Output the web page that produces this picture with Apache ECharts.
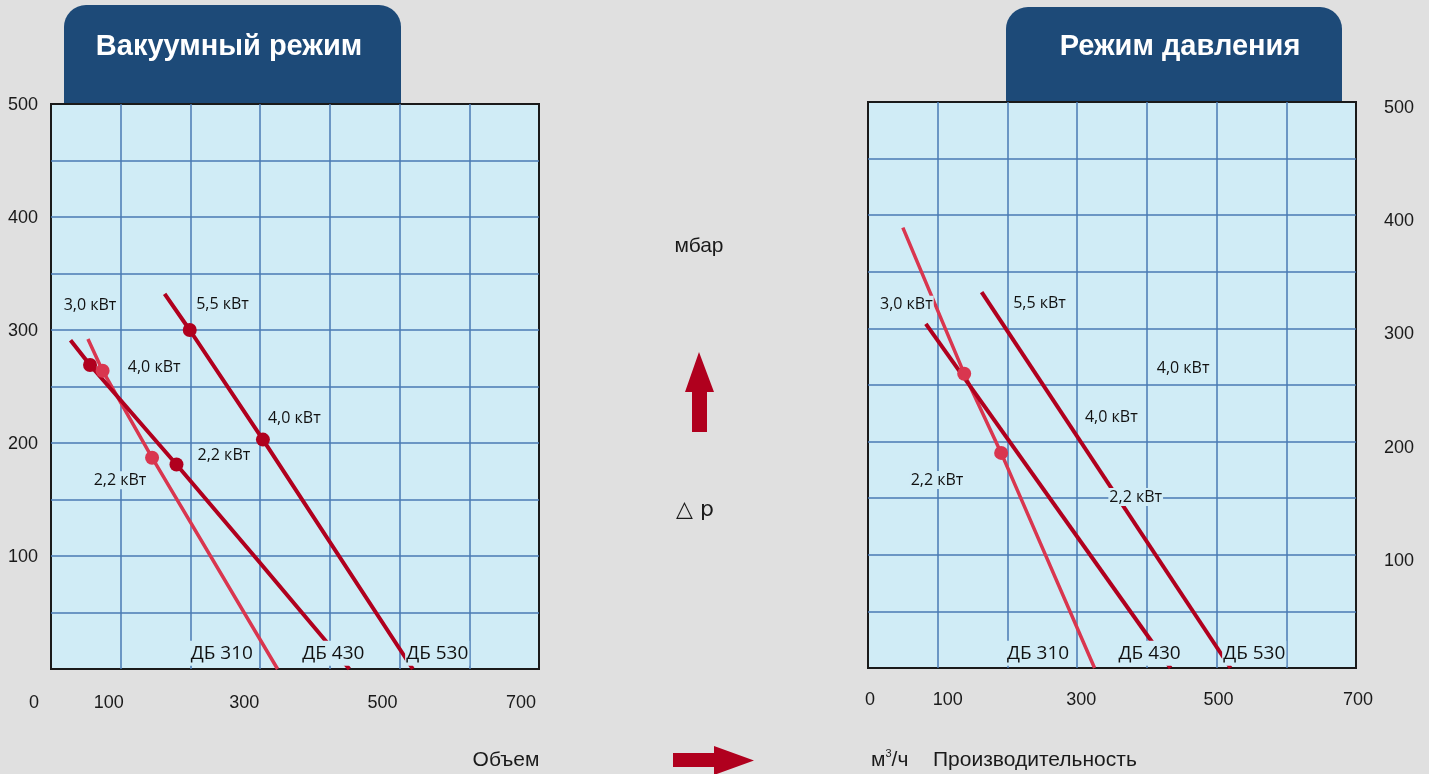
<!DOCTYPE html>
<html>
<head>
<meta charset="utf-8">
<script src="https://cdn.jsdelivr.net/npm/echarts@6/dist/echarts.min.js"></script>
<style>
html,body{margin:0;padding:0;background:#e0e0e0;}
#chart{width:1429px;height:774px;}
</style>
</head>
<body>
<div id="chart"></div>
<script>
// ---- data ----
const xTicks = [0, 100, 300, 500, 700];
const yTicks = [100, 200, 300, 400, 500];

const titles = ['Вакуумный режим', 'Режим давления'];

// Vacuum mode (left)
const vacDB310 = [[53, 292], [74, 264], [145, 187], [325, 0]];
const vacDB430 = [[28, 291], [56, 269], [180, 181], [297, 96], [428, 0]];
const vacDB530 = [[163, 332], [199, 300], [304, 203], [519, 0]];
const vacDotsLight = [[74, 264], [145, 187]];
const vacDotsDark = [[56, 269], [180, 181], [199, 300], [304, 203]];
const vacKwLabels = [[56, 322, '3,0 кВт'], [246, 323, '5,5 кВт'], [148, 267, '4,0 кВт'], [349, 222, '4,0 кВт'], [248, 189, '2,2 кВт'], [99, 167, '2,2 кВт']];
const vacModelLabels = [[245, 14, 'ДБ 310'], [405, 14, 'ДБ 430'], [554, 14, 'ДБ 530']];

// Pressure mode (right)
const prsDB310 = [[50, 389], [138, 260], [191, 190], [325, 0]];
const prsDB430 = [[83, 304], [434, 0]];
const prsDB530 = [[163, 332], [520, 0]];
const prsDotsLight = [[138, 260], [191, 190]];
const prsDotsDark = [];
const prsKwLabels = [[55, 321, '3,0 кВт'], [246, 322, '5,5 кВт'], [452, 265, '4,0 кВт'], [349, 221, '4,0 кВт'], [384, 151, '2,2 кВт'], [99, 166, '2,2 кВт']];
const prsModelLabels = [[244, 13, 'ДБ 310'], [404, 13, 'ДБ 430'], [554, 13, 'ДБ 530']];

const axisTexts = { yUnit: 'мбар', dp: '△ p', vol: 'Объем', unit: 'м{s|3}/ч', perf: 'Производительность' };

// ---- styles ----
const DARK = '#b0001e';
const LIGHT = '#d9364f';
const PLOT_BG = '#d0ecf6';
const GRID_LINE = '#4a7ab3';
const TAB = '#1d4a78';
const TICK_FONT = 'Liberation Sans, Arial, sans-serif';
const LABEL_FONT = 'Open Sans, sans-serif';

const xShift = [
  { 0: -17, 100: -12, 300: -16, 500: -17, 700: -18 },
  { 0: 2, 100: 10, 300: 4, 500: 2, 700: 2 }
];
function xRich(side) {
  const r = {};
  xTicks.forEach(v => {
    const dx = xShift[side][v];
    r['s' + v] = {
      fontSize: 18, fontFamily: TICK_FONT, color: '#1a1a1a',
      padding: dx < 0 ? [0, -2 * dx, 0, 0] : [0, 0, 0, 2 * dx]
    };
  });
  return r;
}

function xAxis(gi) {
  return {
    gridIndex: gi, type: 'value', min: 0, max: 700, interval: 100,
    axisLine: { show: false }, axisTick: { show: false },
    splitLine: { show: true, showMinLine: false, showMaxLine: false, lineStyle: { color: GRID_LINE, width: 1.5 } },
    axisLabel: {
      margin: gi === 0 ? 25 : 23,
      formatter: v => xTicks.includes(v) ? '{s' + v + '|' + v + '}' : '',
      rich: xRich(gi)
    }
  };
}
function yAxis(gi) {
  return {
    gridIndex: gi, type: 'value', min: 0, max: 500, interval: 50,
    position: gi === 0 ? 'left' : 'right',
    axisLine: { show: false }, axisTick: { show: false },
    splitLine: { show: true, showMinLine: false, showMaxLine: false, lineStyle: { color: GRID_LINE, width: 1.5 } },
    axisLabel: {
      margin: gi === 0 ? 13 : 28,
      formatter: v => yTicks.includes(v) ? '{t|' + v + '}' : '',
      rich: {
        t: {
          fontSize: 18, fontFamily: TICK_FONT, color: '#1a1a1a',
          padding: gi === 0 ? [2, 0, 0, 0] : [12, 0, 0, 0]
        }
      }
    }
  };
}

function lineSeries(gi, data, color, width) {
  return {
    type: 'line', xAxisIndex: gi, yAxisIndex: gi, data: data,
    symbol: 'none', z: 3, silent: true,
    lineStyle: { color: color, width: width }
  };
}
function dotSeries(gi, data, color) {
  return {
    type: 'scatter', xAxisIndex: gi, yAxisIndex: gi, data: data,
    symbolSize: 14, z: 4, silent: true,
    itemStyle: { color: color, opacity: 1 }
  };
}
function labelSeries(gi, data, size, pad) {
  return {
    type: 'scatter', xAxisIndex: gi, yAxisIndex: gi, data: data,
    symbolSize: 1, z: 6, silent: true,
    itemStyle: { color: 'rgba(0,0,0,0)', opacity: 1 },
    label: {
      show: true, position: 'inside',
      formatter: p => p.value[2],
      fontSize: size, fontFamily: LABEL_FONT, color: '#111111',
      backgroundColor: PLOT_BG, padding: pad, opacity: 1
    }
  };
}

const chart = echarts.init(document.getElementById('chart'), null, { renderer: 'canvas' });

const option = {
  animation: false,
  backgroundColor: '#e0e0e0',
  grid: [
    { left: 51, top: 104, width: 488, height: 565, show: true, backgroundColor: PLOT_BG, borderColor: '#1a1a1a', borderWidth: 2 },
    { left: 868, top: 102, width: 488, height: 566, show: true, backgroundColor: PLOT_BG, borderColor: '#1a1a1a', borderWidth: 2 }
  ],
  xAxis: [xAxis(0), xAxis(1)],
  yAxis: [yAxis(0), yAxis(1)],
  series: [
    lineSeries(0, vacDB310, LIGHT, 3.5),
    lineSeries(0, vacDB430, DARK, 4),
    lineSeries(0, vacDB530, DARK, 4),
    dotSeries(0, vacDotsLight, LIGHT),
    dotSeries(0, vacDotsDark, DARK),
    labelSeries(0, vacKwLabels, 16, [1, 1]),
    labelSeries(0, vacModelLabels, 19, [3, 1]),
    lineSeries(1, prsDB310, LIGHT, 3.5),
    lineSeries(1, prsDB430, DARK, 4),
    lineSeries(1, prsDB530, DARK, 4),
    dotSeries(1, prsDotsLight, LIGHT),
    dotSeries(1, prsDotsDark, DARK),
    labelSeries(1, prsKwLabels, 16, [1, 1]),
    labelSeries(1, prsModelLabels, 19, [3, 1])
  ],
  graphic: [
    { type: 'rect', z: -1, shape: { x: 64, y: 5, width: 337, height: 100, r: [22, 22, 0, 0] }, style: { fill: TAB } },
    { type: 'rect', z: -1, shape: { x: 1006, y: 7, width: 336, height: 96, r: [22, 22, 0, 0] }, style: { fill: TAB } },
    { type: 'text', x: 229, y: 47, style: { text: titles[0], fill: '#ffffff', font: 'bold 29px Liberation Sans, Arial, sans-serif', align: 'center', verticalAlign: 'middle' } },
    { type: 'text', x: 1180, y: 47, style: { text: titles[1], fill: '#ffffff', font: 'bold 29px Liberation Sans, Arial, sans-serif', align: 'center', verticalAlign: 'middle' } },
    { type: 'text', x: 699, y: 246, style: { text: axisTexts.yUnit, fill: '#1a1a1a', font: '21px Liberation Sans, Arial, sans-serif', align: 'center', verticalAlign: 'middle' } },
    { type: 'text', x: 695, y: 510, style: { text: axisTexts.dp, fill: '#1a1a1a', font: '22px DejaVu Sans, sans-serif', align: 'center', verticalAlign: 'middle' } },
    { type: 'polygon', shape: { points: [[699, 352], [714, 392], [707, 392], [707, 432], [692, 432], [692, 392], [685, 392]] }, style: { fill: DARK } },
    { type: 'polygon', shape: { points: [[673, 753], [714, 753], [714, 746], [754, 760.5], [714, 775], [714, 767], [673, 767]] }, style: { fill: DARK } },
    { type: 'text', x: 506, y: 760, style: { text: axisTexts.vol, fill: '#1a1a1a', font: '21px Liberation Sans, Arial, sans-serif', align: 'center', verticalAlign: 'middle' } },
    { type: 'text', x: 871, y: 760, style: { text: axisTexts.unit, fill: '#1a1a1a', font: '21px Liberation Sans, Arial, sans-serif', align: 'left', verticalAlign: 'middle', rich: { s: { fontSize: 11, fontFamily: 'Liberation Sans', verticalAlign: 'top', padding: [0, 0, 12, 0], fill: '#1a1a1a' } } } },
    { type: 'text', x: 933, y: 760, style: { text: axisTexts.perf, fill: '#1a1a1a', font: '21px Liberation Sans, Arial, sans-serif', align: 'left', verticalAlign: 'middle' } }
  ]
};
chart.setOption(option);
</script>
</body>
</html>
